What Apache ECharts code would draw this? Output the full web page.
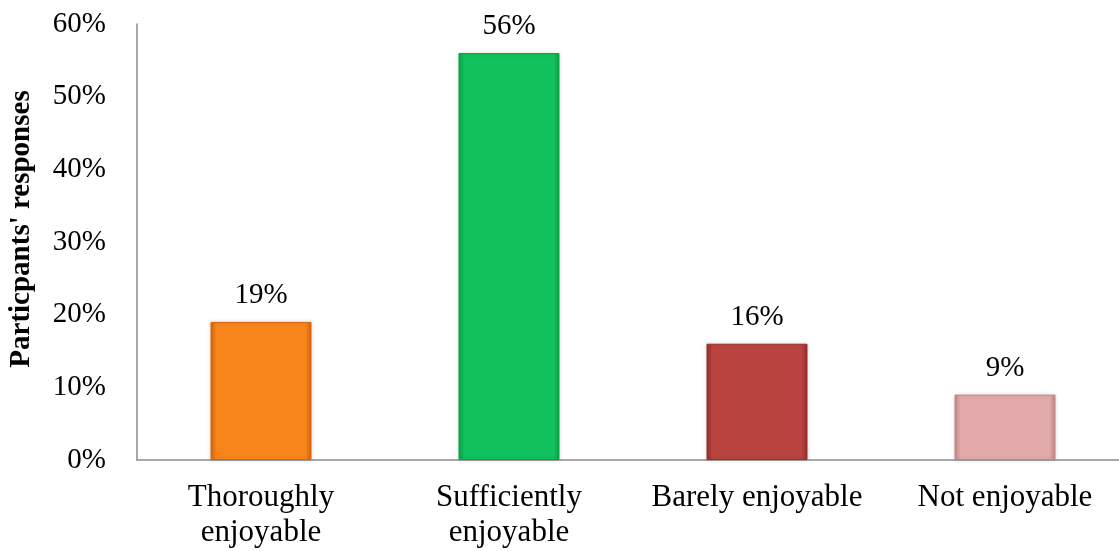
<!DOCTYPE html>
<html>
<head>
<meta charset="utf-8">
<script src="https://cdn.jsdelivr.net/npm/echarts@6/dist/echarts.min.js"></script>
<style>
  html, body { margin: 0; padding: 0; background: #fff; }
  #chart { width: 1119px; height: 551px; }
</style>
</head>
<body>
<div id="chart"></div>
<script>
// Survey: how enjoyable participants found the activity
const categories = ['Thoroughly\nenjoyable', 'Sufficiently\nenjoyable', 'Barely enjoyable', 'Not enjoyable'];
const responses = [19, 56, 16, 9];
const barColors = [
  ['#D7650A', '#F8841C', '#D7650A'],
  ['#08A548', '#12C25C', '#08A548'],
  ['#962E2B', '#B9443F', '#962E2B'],
  ['#C08888', '#E2AAAA', '#C08888']
];
const yTicks = { min: 0, max: 60, interval: 10 };

const font = 'Liberation Serif, Times New Roman, serif';

// horizontal shading: darker rims, flat face
function bevel(c) {
  return {
    type: 'linear', x: 0, y: 0, x2: 1, y2: 0,
    colorStops: [
      { offset: 0, color: c[0] },
      { offset: 0.06, color: c[1] },
      { offset: 0.94, color: c[1] },
      { offset: 1, color: c[2] }
    ]
  };
}

const chart = echarts.init(document.getElementById('chart'));
chart.setOption({
  animation: false,
  grid: { left: 137, right: -10, top: 24, bottom: 91, outerBoundsMode: 'none', containLabel: false },
  xAxis: {
    type: 'category',
    data: categories,
    axisLine: { lineStyle: { color: '#8c8c8c', width: 1.5 } },
    axisTick: { show: false },
    axisLabel: { color: '#000', fontFamily: font, fontSize: 31, lineHeight: 35, margin: 20, interval: 0 }
  },
  yAxis: {
    type: 'value',
    min: yTicks.min, max: yTicks.max, interval: yTicks.interval,
    name: "Particpants' responses",
    nameLocation: 'middle',
    nameGap: 101,
    nameTextStyle: { color: '#000', fontFamily: font, fontSize: 29, fontWeight: 'bold', padding: [0, 0, 0, 26] },
    axisLine: { show: true, lineStyle: { color: '#8c8c8c', width: 1.5 } },
    axisTick: { show: false },
    splitLine: { show: false },
    axisLabel: { color: '#000', fontFamily: font, fontSize: 29, margin: 31, formatter: '{value}%' }
  },
  series: [{
    type: 'bar',
    barWidth: 101,
    data: responses.map((v, i) => ({
      value: v,
      itemStyle: {
        color: bevel(barColors[i]),
        borderColor: barColors[i][0],
        borderWidth: 1,
        shadowColor: 'rgba(0,0,0,0.15)',
        shadowBlur: 4
      }
    })),
    label: {
      show: true, position: 'top', distance: 12,
      color: '#000', fontFamily: font, fontSize: 29,
      formatter: '{c}%'
    }
  }]
});
</script>
</body>
</html>
